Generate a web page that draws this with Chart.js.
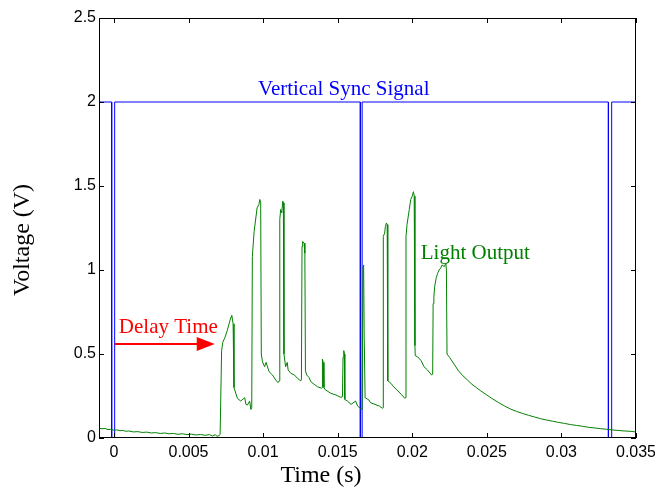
<!DOCTYPE html>
<html>
<head>
<meta charset="utf-8">
<script src="https://cdn.jsdelivr.net/npm/chart.js@4/dist/chart.umd.min.js"></script>
<style>
  html, body { margin: 0; padding: 0; background: #fff; }
  #c { display: block; }
</style>
</head>
<body>
<canvas id="c" width="655" height="490"></canvas>
<script>
// light output (green)
const lightTime = [
  -0.001, -0.0008, -0.0006, -0.0004, -0.0002, 0, 0.0002, 0.0004, 0.0006, 0.0008,
  0.001, 0.0013, 0.0016, 0.0019, 0.0022, 0.0025, 0.0028, 0.0031, 0.0034, 0.0037,
  0.004, 0.0043, 0.0046, 0.0049, 0.0052, 0.0055, 0.0058, 0.0061, 0.0064, 0.0066,
  0.0068, 0.0069, 0.00705,
  0.00712, 0.00722, 0.0073, 0.00745, 0.0076, 0.00775, 0.00785, 0.0079, 0.00799,
  0.00805, 0.00828, 0.0085, 0.00877, 0.00885, 0.00895, 0.0091, 0.00918,
  0.00924, 0.00928, 0.0094, 0.0096, 0.00972, 0.00978, 0.00984, 0.00988,
  0.00996, 0.0101, 0.0102, 0.0104, 0.01063, 0.01085, 0.011,
  0.01108, 0.01112, 0.01118, 0.01125, 0.01132, 0.01136, 0.0114,
  0.01151, 0.01162, 0.01168, 0.01186, 0.0121, 0.01231, 0.01253,
  0.01257, 0.01261, 0.01265, 0.01275, 0.0128, 0.01284,
  0.01293, 0.01308, 0.0132, 0.01342, 0.01365, 0.01392,
  0.01396, 0.01398, 0.01403, 0.01408, 0.01416, 0.01454, 0.01488, 0.01521, 0.01532,
  0.01536, 0.01541, 0.01545, 0.01548, 0.01565, 0.0159, 0.0162, 0.01634, 0.01655,
  0.01664, 0.0167, 0.01674, 0.01678, 0.01684, 0.0171, 0.0172, 0.0175, 0.0178, 0.018,
  0.01804, 0.01806, 0.01815, 0.0182, 0.01827, 0.01832, 0.01836,
  0.01845, 0.01858, 0.0187, 0.01904, 0.01926, 0.0195,
  0.01956, 0.01958, 0.01965, 0.0198, 0.0199, 0.02, 0.02008, 0.02013, 0.02018,
  0.0202, 0.02035, 0.0206, 0.02079, 0.02102, 0.0213,
  0.02137, 0.0214, 0.02145, 0.0215, 0.0216, 0.0217, 0.0218, 0.0219, 0.022,
  0.02215, 0.02225, 0.02229, 0.02233,
  0.0225, 0.0228, 0.0231, 0.0234, 0.0237, 0.024, 0.0243, 0.0246, 0.025, 0.0254,
  0.0258, 0.0262, 0.0266, 0.027, 0.0274, 0.0278, 0.0282, 0.0286, 0.029, 0.0294,
  0.0298, 0.0302, 0.0306, 0.031, 0.0314, 0.0318, 0.0322, 0.0326, 0.033, 0.0334,
  0.0338, 0.0342, 0.0346, 0.035
];
const lightVolt = [
  0.058, 0.055, 0.057, 0.05, 0.052, 0.046, 0.048, 0.043, 0.045, 0.04,
  0.042, 0.036, 0.038, 0.033, 0.035, 0.03, 0.032, 0.027, 0.03, 0.025,
  0.027, 0.022, 0.025, 0.02, 0.023, 0.018, 0.021, 0.016, 0.02, 0.012,
  0.02, 0.01, 0.014,
  0.02, 0.52, 0.57, 0.6, 0.64, 0.69, 0.72, 0.73, 0.68,
  0.3, 0.236, 0.22, 0.24, 0.2, 0.196, 0.22, 0.17,
  0.18, 1.08, 1.23, 1.37, 1.39, 1.42, 1.4, 0.5,
  0.454, 0.424, 0.45, 0.395, 0.375, 0.345, 0.33,
  0.34, 1.3, 1.36, 1.34, 1.41, 1.4, 0.5,
  0.424, 0.45, 0.405, 0.385, 0.375, 0.355, 0.34,
  0.35, 1.14, 1.17, 1.16, 1.1, 0.4,
  0.375, 0.36, 0.335, 0.32, 0.305, 0.296,
  0.3, 0.47, 0.45, 0.3, 0.288, 0.266, 0.256, 0.242, 0.245,
  0.48, 0.52, 0.5, 0.23, 0.22, 0.2, 0.22, 0.19, 0.175,
  0.17, 1.02, 1.03, 0.6, 0.24, 0.226, 0.21, 0.2, 0.19, 0.177,
  0.18, 1.2, 1.22, 1.26, 1.28, 1.27, 0.34,
  0.335, 0.325, 0.31, 0.28, 0.26, 0.236,
  0.24, 1.2, 1.27, 1.36, 1.42, 1.44, 1.466, 1.44, 0.55,
  0.49, 0.484, 0.46, 0.424, 0.405, 0.375,
  0.38, 0.8, 0.84, 0.9, 0.95, 0.98, 1.0, 1.01, 1.03,
  1.02, 1.04, 1.0, 0.5,
  0.48, 0.44, 0.4, 0.37, 0.345, 0.32, 0.3, 0.28, 0.256, 0.232,
  0.21, 0.19, 0.172, 0.158, 0.146, 0.135, 0.125, 0.115, 0.107, 0.1,
  0.093, 0.087, 0.08, 0.075, 0.07, 0.064, 0.06, 0.056, 0.052, 0.048,
  0.045, 0.042, 0.04, 0.036
];

// vertical sync (blue)
const syncTime = [-0.001, -0.00015, -0.00015, 0.00005, 0.00005, 0.01652, 0.01652, 0.01664, 0.01664,
                  0.03315, 0.03315, 0.03337, 0.03337, 0.035];
const syncVolt = [2, 2, 0, 0, 2, 2, 0, 0, 2, 2, 0, 0, 2, 2];

const xTicks = [0, 0.005, 0.01, 0.015, 0.02, 0.025, 0.03, 0.035];
const yTicks = [0, 0.5, 1, 1.5, 2, 2.5];

const pts = (xs, ys) => xs.map((x, i) => ({ x: x, y: ys[i] }));

const TICK_FONT = { family: 'Liberation Sans, Arial, sans-serif', size: 16 };
const SERIF = '"Liberation Serif", "Times New Roman", serif';

// box, inward ticks on all four sides, labels and the arrow
const decor = {
  id: 'decor',
  afterDatasetsDraw(chart) {
    const { ctx, chartArea: a, scales: { x, y } } = chart;
    ctx.save();
    ctx.strokeStyle = '#000';
    ctx.lineWidth = 1;
    ctx.strokeRect(a.left + 0.5, a.top + 0.5, a.right - a.left - 1, a.bottom - a.top - 1);
    ctx.beginPath();
    xTicks.forEach(v => {
      const px = Math.round(x.getPixelForValue(v)) + 0.5;
      ctx.moveTo(px, a.bottom); ctx.lineTo(px, a.bottom - 5);
      ctx.moveTo(px, a.top); ctx.lineTo(px, a.top + 5);
    });
    yTicks.forEach(v => {
      const py = Math.round(y.getPixelForValue(v)) + 0.5;
      ctx.moveTo(a.left, py); ctx.lineTo(a.left + 5, py);
      ctx.moveTo(a.right, py); ctx.lineTo(a.right - 5, py);
    });
    ctx.stroke();

    ctx.font = '21px ' + SERIF;
    ctx.textBaseline = 'middle';
    ctx.textAlign = 'center';
    ctx.fillStyle = '#0000ff';
    ctx.fillText('Vertical Sync Signal', x.getPixelForValue(0.01541), y.getPixelForValue(2.077));
    ctx.textAlign = 'left';
    ctx.fillStyle = '#008000';
    ctx.fillText('Light Output', x.getPixelForValue(0.02057), y.getPixelForValue(1.10));
    ctx.fillStyle = '#ff0000';
    ctx.fillText('Delay Time', x.getPixelForValue(0.00033), y.getPixelForValue(0.66));

    // arrow
    const ay = y.getPixelForValue(0.56);
    const x0 = x.getPixelForValue(0.00006), x1 = x.getPixelForValue(0.00676);
    ctx.strokeStyle = '#ff0000';
    ctx.lineWidth = 2;
    ctx.beginPath();
    ctx.moveTo(x0, ay); ctx.lineTo(x1 - 14, ay);
    ctx.stroke();
    ctx.beginPath();
    ctx.moveTo(x1, ay); ctx.lineTo(x1 - 18, ay - 7); ctx.lineTo(x1 - 18, ay + 7);
    ctx.closePath();
    ctx.fill();

    // axis titles
    ctx.fillStyle = '#000';
    ctx.font = '24px ' + SERIF;
    ctx.textAlign = 'center';
    ctx.fillText('Time (s)', 321, 476);
    ctx.translate(23, 240);
    ctx.rotate(-Math.PI / 2);
    ctx.fillText('Voltage (V)', 0, 0);
    ctx.restore();
  }
};

new Chart(document.getElementById('c'), {
  type: 'scatter',
  data: {
    datasets: [
      {
        label: 'Light Output',
        data: pts(lightTime, lightVolt),
        showLine: true,
        borderColor: '#008000',
        borderWidth: 1,
        pointRadius: 0
      },
      {
        label: 'Vertical Sync Signal',
        data: pts(syncTime, syncVolt),
        showLine: true,
        borderColor: '#0000ff',
        borderWidth: 1,
        pointRadius: 0
      }
    ]
  },
  options: {
    responsive: false,
    animation: false,
    devicePixelRatio: 1,
    layout: { padding: { top: 18, right: 19, left: 0, bottom: 0 } },
    plugins: { legend: { display: false }, tooltip: { enabled: false } },
    scales: {
      x: {
        type: 'linear',
        min: -0.001,
        max: 0.035,
        afterFit: s => { s.height = 52; s.paddingLeft = 0; s.paddingRight = 0; },
        afterBuildTicks: s => { s.ticks = xTicks.map(v => ({ value: v })); },
        grid: { display: false, drawTicks: false },
        border: { display: false },
        ticks: {
          color: '#000',
          font: TICK_FONT,
          padding: 5,
          maxRotation: 0,
          autoSkip: false,
          callback: v => String(Math.round(v * 1000) / 1000)
        }
      },
      y: {
        min: 0,
        max: 2.5,
        afterFit: s => { s.width = 99; s.paddingTop = 0; s.paddingBottom = 0; },
        afterBuildTicks: s => { s.ticks = yTicks.map(v => ({ value: v })); },
        grid: { display: false, drawTicks: false },
        border: { display: false },
        ticks: {
          color: '#000',
          font: TICK_FONT,
          padding: 3,
          callback: v => String(v)
        }
      }
    }
  },
  plugins: [decor]
});
</script>
</body>
</html>
